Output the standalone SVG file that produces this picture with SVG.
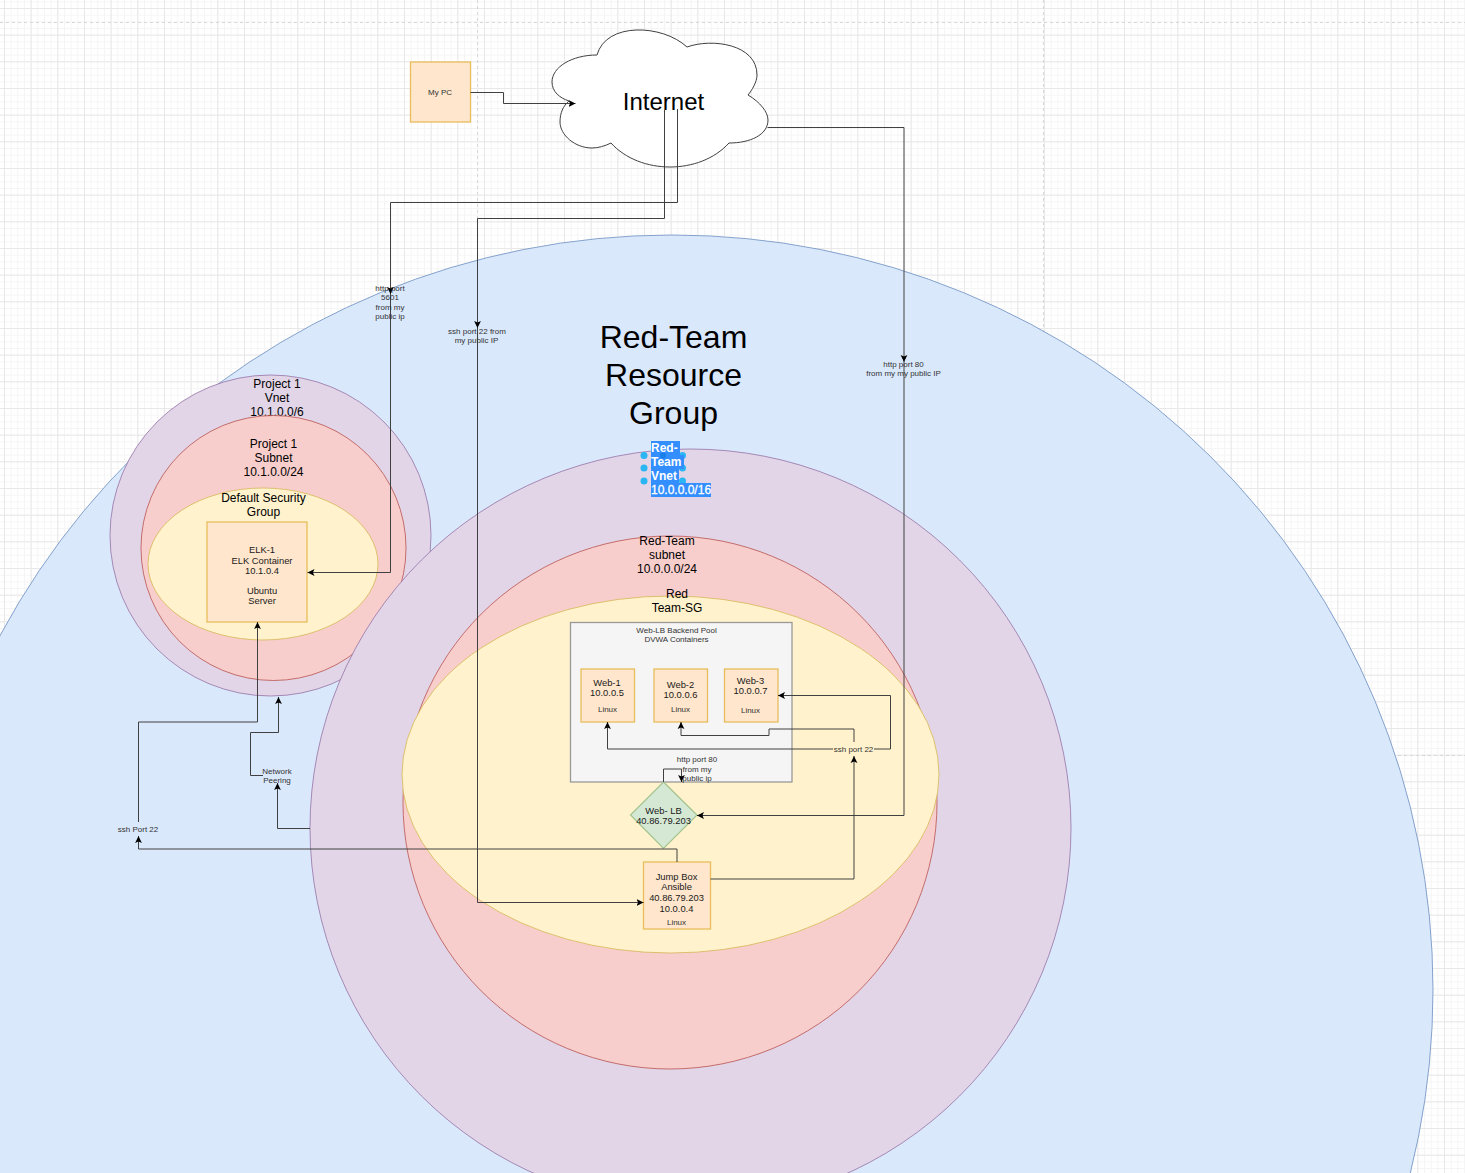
<svg xmlns="http://www.w3.org/2000/svg" width="1465" height="1173" viewBox="0 0 1465 1173">
<style>
text{font-family:"Liberation Sans",Arial,sans-serif;fill:#000;text-anchor:middle}
.t32{font-size:32px}.t24{font-size:24px}.t12{font-size:12px}.t9{font-size:9.4px;fill:#1a1a1a}.t8{font-size:8px;fill:#333}
.blue{fill:#dae8fc;stroke:#6c8ebf;stroke-opacity:.8}
.purple{fill:#e1d5e7;stroke:#9673a6;stroke-opacity:.8}
.red{fill:#f8cecc;stroke:#b85450;stroke-opacity:.8}
.yellow{fill:#fff2cc;stroke:#d6b656;stroke-opacity:.8}
.box{fill:#ffe6cc;stroke:#e9bd5c;stroke-width:1.3}
.edge{fill:none;stroke:#404040;stroke-width:1}
.arrow{marker-end:url(#tip)}
.page{fill:none;stroke:#d8d8d8;stroke-width:1;stroke-dasharray:3 3}
.sel{fill:#338fff}
.selt{fill:#fff;font-size:12px;text-anchor:start;font-weight:bold}
.handle{fill:#29b6f2}
</style>
<defs>
<marker id="tip" markerUnits="userSpaceOnUse" markerWidth="8" markerHeight="8" refX="7" refY="4" orient="auto">
<path d="M0,0.6 L7,4 L0,7.4 L1.6,4 Z" fill="#000"/>
</marker>
<pattern id="minor" width="6.667" height="6.667" patternUnits="userSpaceOnUse" x="4" y="8">
<path d="M0.5,0V6.667M0,0.5H6.667" fill="none" stroke="#f5f5f5" stroke-width="1"/>
</pattern>
<pattern id="major" width="26.667" height="26.667" patternUnits="userSpaceOnUse" x="4" y="8">
<path d="M0.5,0V26.667M0,0.5H26.667" fill="none" stroke="#e8e8e8" stroke-width="1"/>
</pattern>
</defs>
<g id="background">
<rect width="1465" height="1173" fill="#fff"/>
<rect width="1465" height="1173" fill="url(#minor)"/>
<rect width="1465" height="1173" fill="url(#major)"/>
<path class="page" d="M477.5,0V1173M1043.5,0V1173M0,22.5H1465M0,755.5H1465"/>
</g>
<g id="red-team-resource-group">
<ellipse class="blue" cx="672" cy="990" rx="761" ry="755"/>
<text class="t32" x="673.5" y="348">Red-Team</text>
<text class="t32" x="673.5" y="386">Resource</text>
<text class="t32" x="673.5" y="424">Group</text>
</g>
<g id="project1-vnet">
<circle class="purple" cx="270.5" cy="535.5" r="160.5"/>
<text class="t12" x="277" y="388">Project 1</text>
<text class="t12" x="277" y="402">Vnet</text>
<text class="t12" x="277" y="416">10.1.0.0/6</text>
</g>
<g id="project1-subnet">
<circle class="red" cx="273.5" cy="548" r="132.5"/>
<text class="t12" x="273.5" y="448">Project 1</text>
<text class="t12" x="273.5" y="462">Subnet</text>
<text class="t12" x="273.5" y="476">10.1.0.0/24</text>
</g>
<g id="default-security-group">
<ellipse class="yellow" cx="263" cy="564" rx="115" ry="76"/>
<text class="t12" x="263.5" y="502">Default Security</text>
<text class="t12" x="263.5" y="516">Group</text>
</g>
<g id="elk-1">
<rect class="box" x="207" y="522" width="100" height="100"/>
<text class="t9" x="262" y="552.500">ELK-1</text>
<text class="t9" x="262" y="564">ELK Container</text>
<text class="t9" x="262" y="573.500">10.1.0.4</text>
<text class="t9" x="262" y="594">Ubuntu</text>
<text class="t9" x="262" y="604">Server</text>
</g>
<g id="red-team-vnet">
<ellipse class="purple" cx="690.5" cy="828" rx="380.5" ry="379"/>
<circle class="handle" cx="644" cy="455.500" r="3.500"/>
<circle class="handle" cx="644" cy="468" r="3.500"/>
<circle class="handle" cx="644" cy="481" r="3.500"/>
<circle class="handle" cx="682.500" cy="455.500" r="3.500"/>
<circle class="handle" cx="682.500" cy="468" r="3.500"/>
<circle class="handle" cx="682.500" cy="481" r="3.500"/>
<rect class="sel" x="651" y="441" width="29" height="14"/>
<rect class="sel" x="651" y="455" width="33" height="14"/>
<rect class="sel" x="651" y="469" width="28" height="14"/>
<rect class="sel" x="651" y="483" width="60" height="14"/>
<circle cx="663" cy="455.500" r="3" fill="#1a7fe8"/>
<text class="selt" x="651" y="452">Red-</text>
<text class="selt" x="651" y="466">Team</text>
<text class="selt" x="651" y="480">Vnet</text>
<text class="selt" x="651" y="494" style="font-weight:normal;stroke:#fff;stroke-width:.3">10.0.0.0/16</text>
</g>
<g id="red-team-subnet">
<ellipse class="red" cx="670" cy="802.500" rx="267" ry="266.500"/>
<text class="t12" x="667" y="545">Red-Team</text>
<text class="t12" x="667" y="559">subnet</text>
<text class="t12" x="667" y="573">10.0.0.0/24</text>
</g>
<g id="red-team-sg">
<ellipse class="yellow" cx="670.500" cy="774.500" rx="268.500" ry="178.500"/>
<text class="t12" x="677" y="598">Red</text>
<text class="t12" x="677" y="612">Team-SG</text>
</g>
<g id="web-lb-backend-pool">
<rect x="570.500" y="622.500" width="221.500" height="159.500" fill="#f5f5f5" stroke="#999" stroke-width="1.300"/>
<text class="t8" x="676.500" y="633">Web-LB Backend Pool</text>
<text class="t8" x="676.500" y="641.500">DVWA Containers</text>
</g>
<g id="web-1">
<rect class="box" x="581" y="669" width="53.500" height="53"/>
<text class="t9" x="607" y="686">Web-1</text>
<text class="t9" x="607" y="696">10.0.0.5</text>
<text class="t8" x="607.500" y="712">Linux</text>
</g>
<g id="web-2">
<rect class="box" x="654" y="669" width="53.500" height="53"/>
<text class="t9" x="680.500" y="688">Web-2</text>
<text class="t9" x="680.500" y="698">10.0.0.6</text>
<text class="t8" x="680.500" y="712">Linux</text>
</g>
<g id="web-3">
<rect class="box" x="724.500" y="669" width="53.500" height="53"/>
<text class="t9" x="750.500" y="684">Web-3</text>
<text class="t9" x="750.500" y="694">10.0.0.7</text>
<text class="t8" x="750.500" y="713">Linux</text>
</g>
<g id="web-lb">
<path d="M663.500,782 L697,815 L663.500,848.500 L630.500,815 Z" fill="#d5e8d4" stroke="#a3c48e" stroke-width="1.200"/>
<text class="t9" x="663.500" y="814">Web- LB</text>
<text class="t9" x="663.500" y="824">40.86.79.203</text>
</g>
<g id="jump-box">
<rect class="box" x="643.500" y="862" width="67" height="67"/>
<text class="t9" x="676.500" y="880">Jump Box</text>
<text class="t9" x="676.500" y="890">Ansible</text>
<text class="t9" x="676.500" y="901">40.86.79.203</text>
<text class="t9" x="676.500" y="912">10.0.0.4</text>
<text class="t8" x="676.500" y="925">Linux</text>
</g>
<g id="my-pc">
<rect class="box" x="410.500" y="62" width="60" height="60"/>
<text class="t8" x="440" y="95">My PC</text>
</g>
<g id="internet">
<path d="M597,55 C606,22 662,24 687,47 C712,38 757,44 757,75 C757,82 752,90 748,95 C760,102 768,112 768,120 C768,135 750,143 729,143 C700,175 640,175 611,143 C605,146 598,148 592,148 C575,148 560,135 560,122 C560,113 563,106 569,101 C560,98 552,92 552,82 C552,67 572,55 597,55 Z" fill="#fff" stroke="#404040" stroke-width="1"/>
<text class="t24" x="663.500" y="110">Internet</text>
</g>
<g id="connectors">
<path class="edge arrow" d="M470.500,92.500H503.500V103.500H575.500"/>
<path class="edge arrow" d="M677.500,109V202.500H390.500V294"/>
<path class="edge arrow" d="M390.500,294V572.500H307.500"/>
<path class="edge arrow" d="M664.500,110V218.500H477.500V328"/>
<path class="edge arrow" d="M477.500,328V902.500H643.500"/>
<path class="edge arrow" d="M767.500,127.500H904V362"/>
<path class="edge arrow" d="M904,362V815.500H697"/>
<path class="edge arrow" d="M663.500,782V769H681.500V782"/>
<path class="edge arrow" d="M677,862V849H138.500V836"/>
<path class="edge arrow" d="M138.500,822V722H257.500V622"/>
<path class="edge arrow" d="M710.500,879H854V756"/>
<path class="edge arrow" d="M854,742V729H769V735.500H681V722"/>
<path class="edge arrow" d="M833,749H607.500V722"/>
<path class="edge arrow" d="M874,749H890.500V695.500H778"/>
<path class="edge arrow" d="M310,828.500H277.500V783"/>
<path class="edge arrow" d="M263,775.500H250.500V732.500H278.500V697"/>
<g id="connector-labels">
<text class="t8" x="390" y="291">http port</text>
<text class="t8" x="390" y="300">5601</text>
<text class="t8" x="390" y="310">from my</text>
<text class="t8" x="390" y="319">public ip</text>
<text class="t8" x="477" y="334">ssh port 22 from</text>
<text class="t8" x="476.500" y="343">my public IP</text>
<text class="t8" x="903.500" y="367">http port 80</text>
<text class="t8" x="903.500" y="376">from my my public IP</text>
<text class="t8" x="697" y="762">http port 80</text>
<text class="t8" x="697" y="772">from my</text>
<text class="t8" x="697" y="781">public ip</text>
<text class="t8" x="853.500" y="752">ssh port 22</text>
<text class="t8" x="138" y="831.500">ssh Port 22</text>
<text class="t8" x="277" y="774">Network</text>
<text class="t8" x="277" y="783">Peering</text>
</g>
</g>
</svg>
